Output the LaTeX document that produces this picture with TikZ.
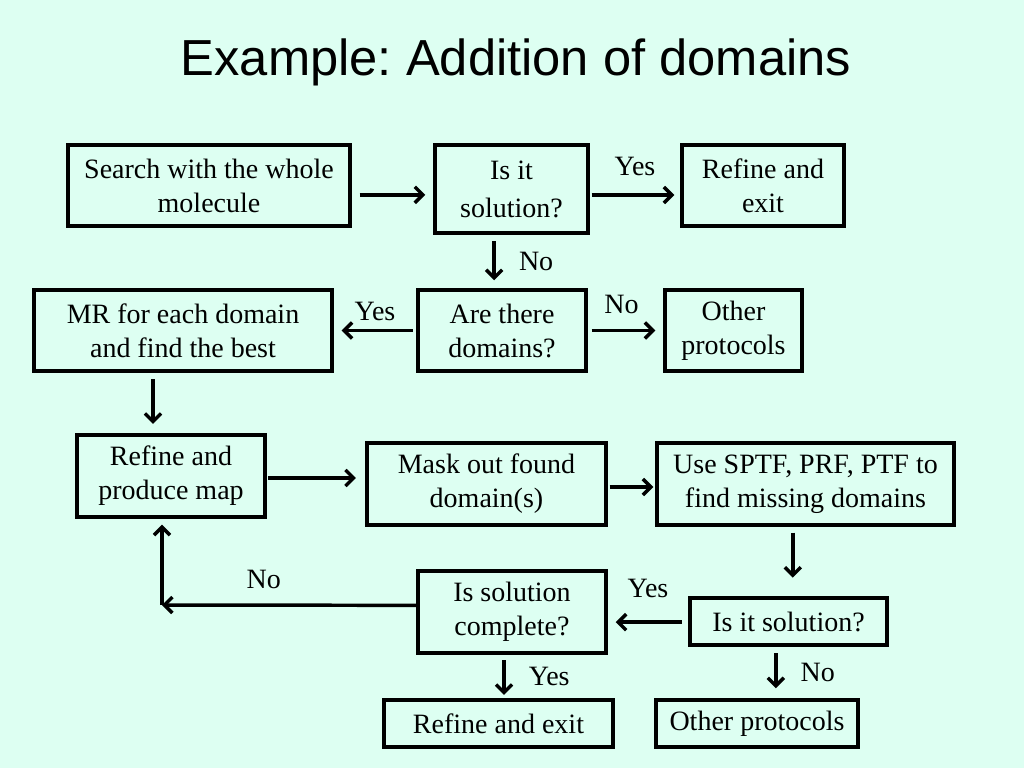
\documentclass[tikz,border=0pt]{standalone}
\usepackage{fontspec}
\setmainfont{Liberation Serif}
\newfontfamily\titlefont{Liberation Sans}
\usetikzlibrary{
    arrows.meta,
    calc,
    positioning,
}
\definecolor{slidebg}{RGB}{221,255,242}
\tikzstyle{box}=[draw,rectangle,line width=2.6pt,align=center,inner sep=0pt,font=\fontsize{21}{25.5}\selectfont]
\tikzstyle{arr}=[line width=2.6pt,-{Straight Barb[length=6pt,width=12pt,line width=2.6pt]}]
\tikzstyle{lbl}=[font=\fontsize{21}{25.5}\selectfont]

\begin{document}
\begin{tikzpicture}[x=0.75pt,y=-0.75pt]
    \fill[slidebg] (0,0) rectangle (1024,768);
    \useasboundingbox (0,0) rectangle (1024,768);
    \node[font=\titlefont\fontsize{38}{44}\selectfont] (title) at (516,62) {Example:\ Addition of domains};
    % first row
    \node[box,minimum width=211.5pt,minimum height=60.75pt] (search) at (209,185.5) {Search with the whole\\molecule};
    \node[box,minimum width=114.75pt,minimum height=66pt] (isit) at (511.5,189) {Is it\\[3pt]solution?};
    \node[box,minimum width=121.5pt,minimum height=60.75pt] (exitA) at (763,185.5) {Refine and\\exit};
    % second row
    \node[box,minimum width=223.5pt,minimum height=60.75pt] (mr) at (183,330.5) {MR for each domain\\and find the best};
    \node[box,minimum width=126pt,minimum height=60.75pt] (domains) at (502,330.5) {Are there\\domains?};
    \node[box,minimum width=102.75pt,minimum height=60.75pt] (otherA) at (733.5,330.5) {Other\\protocols};
    % third row
    \node[box,minimum width=141pt,minimum height=61.5pt] (map) at (171,476) {Refine and\\produce map};
    \node[box,minimum width=179.25pt,minimum height=61.5pt] (mask) at (486.5,484) {Mask out found\\domain(s)};
    \node[box,minimum width=222.75pt,minimum height=61.5pt] (sptf) at (805.5,484) {Use SPTF, PRF, PTF to\\find missing domains};
    % fourth row
    \node[box,minimum width=141pt,minimum height=61.5pt] (complete) at (512,612) {Is solution\\complete?};
    \node[box,minimum width=147.75pt,minimum height=35.25pt] (isitB) at (788.5,621.5) {Is it solution?};
    \node[box,minimum width=171.75pt,minimum height=35.25pt] (exitB) at (498.5,723.5) {Refine and exit};
    \node[box,minimum width=151.5pt,minimum height=35.25pt] (otherB) at (757,723.5) {Other protocols};
    \coordinate (corner) at (162,605);
    % connectors
    \draw[arr,shorten <=6pt,shorten >=6pt] ([yshift=-7pt]search.east) -- ([yshift=-7pt]search.east -| isit.west);
    \draw[arr,shorten <=1.5pt,shorten >=4.5pt] ([yshift=-4.5pt]isit.east) -- ([yshift=-4.5pt]isit.east -| exitA.west)
        node[lbl,midway,above=10pt] {Yes};
    \draw[arr,shorten <=5pt,shorten >=6pt] ([xshift=-13pt]isit.south) -- ([xshift=-13pt]isit.south |- domains.north)
        node[lbl,midway,right=14pt] {No};
    \draw[arr,shorten <=2.5pt,shorten >=6pt] (domains.west) -- (mr.east)
        node[lbl,midway,above=3pt] {Yes};
    \draw[arr,shorten <=3pt,shorten >=6pt] (domains.east) -- (otherA.west)
        node[lbl,midway,above=8pt,xshift=-3pt] {No};
    \draw[arr,shorten <=5pt,shorten >=7pt] ([xshift=-22.5pt]mr.south) -- ([xshift=-22.5pt]mr.south |- map.north);
    \draw[arr,shorten <=1pt,shorten >=7pt] ([yshift=-1.5pt]map.east) -- ([yshift=-1.5pt]map.east -| mask.west);
    \draw[arr,shorten <=1.5pt,shorten >=1.5pt] ([yshift=-2.25pt]mask.east) -- ([yshift=-2.25pt]mask.east -| sptf.west);
    \draw[arr,shorten <=4.5pt,shorten >=14pt] ([xshift=-9.5pt]sptf.south) -- ([xshift=-9.5pt]sptf.south |- isitB.north);
    \draw[arr,shorten <=5pt,shorten >=6pt] ([yshift=-0.5pt]isitB.west) -- ([yshift=-0.5pt]isitB.west -| complete.east)
        node[lbl,midway,above=14pt] {Yes};
    \draw[arr] ([yshift=5pt]complete.west) -- (corner)
        node[lbl,pos=0.6,above=8pt] {No};
    \draw[arr,shorten >=4.5pt] (corner) -- (corner |- map.south);
    \draw[arr,shorten <=4pt,shorten >=2.5pt] ([xshift=-6pt]complete.south) -- ([xshift=-6pt]complete.south |- exitB.north)
        node[lbl,midway,right=14pt] {Yes};
    \draw[arr,shorten <=5pt,shorten >=7.5pt] ([xshift=-9.5pt]isitB.south) -- ([xshift=-9.5pt]isitB.south |- otherB.north)
        node[lbl,midway,right=14pt] {No};
\end{tikzpicture}
\end{document}
